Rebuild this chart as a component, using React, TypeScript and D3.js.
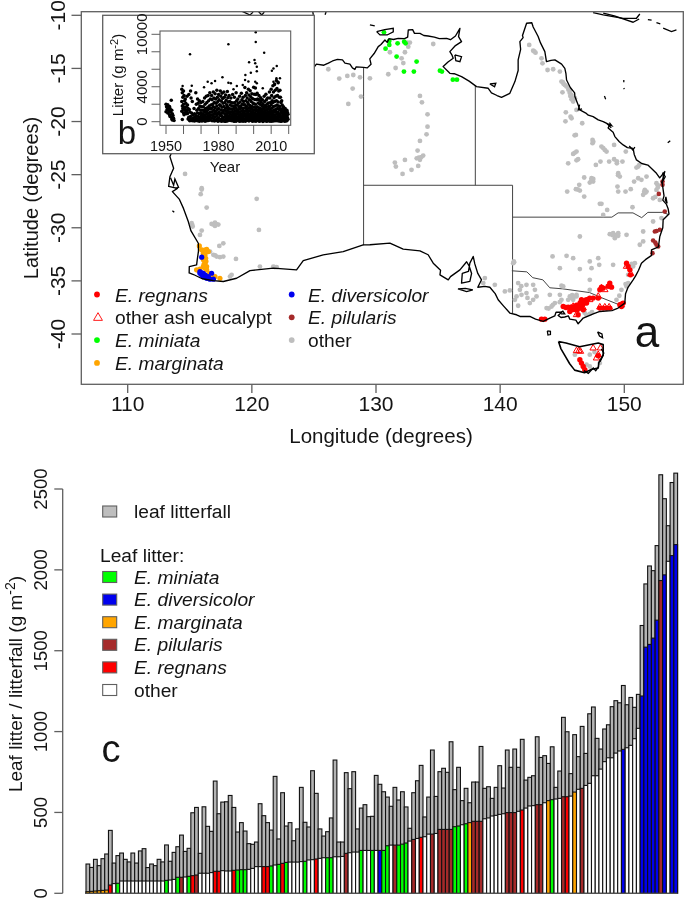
import React from "react";
import * as d3 from "d3";

type LL = [number, number];

// ---------- Panel a: map data (lon, lat) ----------
const mainland: LL[] = [
[129,-14.9],[129.3,-14.95],[129.6,-14.6],[129.5,-14.1],[129.85,-13.6],[130.18,-12.95],[130.4,-12.75],[130.72,-12.32],[130.9,-12.55],[131.05,-12.2],[131.4,-12.28],[131.79,-12.17],[132.3,-12.2],[132.55,-12.05],[132.6,-11.38],[132.95,-11.35],[133.1,-11.7],[133.54,-11.7],[133.85,-11.9],[134.2,-11.95],[134.7,-12.05],[135.1,-12.2],[135.68,-12.17],[136,-12.3],[136.4,-11.95],[136.76,-11.23],[136.65,-12],[136.89,-12.48],[136.4,-12.85],[135.95,-13.42],[136.1,-13.7],[136.22,-14.05],[135.8,-14.4],[135.41,-14.83],[135.95,-15.46],[136.3,-15.5],[136.89,-15.77],[137.5,-16.2],[138.1,-16.71],[139.04,-16.87],[139.3,-17.3],[139.75,-17.55],[140.11,-17.72],[140.78,-17.34],[141.19,-16.24],[141.45,-15.2],[141.45,-14.2],[141.65,-13.2],[141.59,-12.48],[141.85,-12.1],[141.8,-11.9],[142.13,-10.75],[142.55,-10.7],[142.66,-11.1],[143.06,-12],[143.25,-12.6],[143.6,-13.42],[143.73,-14.36],[144.1,-14.25],[144.41,-14.2],[144.95,-14.6],[145.21,-14.99],[145.3,-15.5],[145.35,-16.09],[145.65,-16.8],[146,-17.3],[146.02,-17.65],[146.3,-18.5],[146.42,-18.91],[146.9,-19.2],[147.1,-19.4],[147.49,-19.54],[147.9,-19.85],[148.3,-20],[148.83,-20.32],[148.7,-20.6],[149.1,-21],[149.24,-21.42],[149.6,-21.9],[149.91,-22.2],[150.25,-22.45],[150.71,-22.52],[150.8,-23.1],[150.98,-23.61],[151.4,-23.95],[151.9,-24.1],[152.59,-24.87],[152.85,-25.3],[153.26,-24.71],[153.05,-25.7],[153.13,-26.44],[153.2,-27],[153.1,-27.4],[153.4,-27.8],[153.53,-28.2],[153.6,-28.7],[153.13,-29.25],[153.1,-30],[152.86,-30.82],[152.75,-31.8],[152.19,-32.07],[152.2,-32.6],[151.7,-33],[151.38,-33.33],[151.15,-34],[150.9,-34.55],[150.71,-34.9],[150.3,-35.6],[150.1,-36.2],[150.04,-37.09],[149.5,-37.56],[149,-37.8],[148.03,-37.88],[147.5,-38.1],[146.69,-38.5],[146.5,-38.75],[146.28,-39.04],[146.1,-38.7],[145.61,-38.6],[145.5,-38.3],[145.2,-38.4],[144.9,-38.45],[144.67,-38.25],[144.95,-37.95],[144.5,-37.95],[144.4,-38.3],[144,-38.5],[143.47,-38.82],[142.85,-38.6],[142.39,-38.35],[141.6,-38.35],[141.32,-38.19],[140.78,-38.03],[140.3,-37.4],[139.84,-36.78],[139.6,-36.2],[139.17,-35.6],[138.77,-35.52],[138.2,-35.6],[138.5,-34.9],[138.2,-34.3],[137.96,-33.4],[137.83,-32.7],[137.56,-33.33],[137.45,-34.1],[136.95,-34.3],[136.89,-35.21],[137.56,-35.05],[137.7,-34.3],[137.5,-33.6],[137.3,-33.2],[136.76,-33.96],[136,-34.6],[135.82,-34.9],[135.15,-34.43],[135.2,-34],[134.61,-33.33],[134.2,-32.54],[133.54,-32.17],[132.19,-32.01],[131.12,-31.45],[129.51,-31.6],[128.97,-31.61],[127.36,-32.24],[125.75,-32.55],[124.14,-33.09],[123.6,-33.96],[121.73,-33.8],[119.85,-34.03],[118.77,-34.75],[117.7,-35.06],[116.9,-34.97],[116,-34.8],[115.3,-34.4],[114.95,-34.25],[114.96,-33.65],[115.55,-33.5],[115.6,-33.02],[115.7,-32.2],[115.69,-31.46],[115.1,-30.3],[114.88,-29.42],[114.5,-28.2],[114.15,-27.3],[113.6,-26.6],[114.0,-26.3],[113.3,-26.1],[113.4,-25.2],[113.7,-24.4],[113.4,-23.3],[113.8,-22.2],[114.1,-21.9],[114.5,-21.8],[116,-20.9],[117,-20.6],[118.5,-20.3],[119.5,-20],[121,-19.6],[122.3,-18],[122.2,-17],[123,-16.4],[123.7,-17.3],[123.8,-16.2],[124.6,-15.5],[125.2,-14.6],[125.8,-14.7],[126.16,-14.5],[126.5,-14.3],[126.9,-14.15],[127.3,-14.2],[127.5,-14.5],[127.9,-14.6],[128.1,-14.95],[128.3,-15.1],[128.4,-14.85],[129,-14.9]];
const tasmania: LL[] = [[144.7,-40.7],[144.9,-41.4],[145.3,-42.2],[145.6,-42.8],[146,-43.4],[146.8,-43.65],[147.3,-43.35],[147.9,-43.2],[147.95,-42.7],[148.3,-42],[148.3,-41],[147.9,-40.85],[147.5,-40.95],[146.4,-41.2],[145.3,-40.85],[144.7,-40.7]];
const islands: LL[][] = [
[[130.05,-11.54],[130.7,-11.35],[131.39,-11.23],[131.39,-11.55],[130.9,-11.85],[130.32,-11.85],[130.05,-11.54]],
[[136.35,-13.73],[136.89,-13.89],[136.76,-14.36],[136.43,-14.27],[136.35,-13.73]],
[[139.17,-16.46],[139.65,-16.4],[139.55,-16.72],[139.17,-16.46]],
[[136.6,-35.75],[137.2,-35.7],[137.8,-35.85],[137.3,-36],[136.6,-35.75]],
[[143.8,-39.7],[144.05,-39.75],[144.05,-40.05],[143.85,-40.1],[143.8,-39.7]],
[[147.85,-39.8],[148.2,-40],[148.25,-40.35],[148,-40.2],[147.85,-39.8]],
[[147.49,-9.75],[148.3,-9.97],[149.9,-10.28],[150.98,-10.28],[151.25,-9.88]],
[[148.3,-9.8],[149.2,-10.05],[150.7,-10.65],[151.2,-10.35]],
[[153.13,-11.2],[153.8,-11.54],[154.2,-11.38]],[[152.59,-10.69],[152.9,-10.8]],[[151.9,-10.4],[152.2,-10.45]],
[[119.18,-9.6],[119.85,-9.97],[120.1,-9.7]],[[120.5,-9.6],[120.8,-9.97],[121,-9.7]],[[124.9,-9.6],[124.95,-9.95]],[[126,-9.6],[125.9,-9.95]],
[[129.51,-10.9],[129.9,-11.0]],
[[149.96,-16.1],[149.96,-16.3]],[[149.96,-16.85],[150,-16.95]],[[148.4,-17.6],[148.5,-17.9]],[[153.5,-22],[153.7,-21.8]],[[113.6,-28.4],[113.75,-28.55]],
[[153.1,-24.8],[153.3,-25.2],[153.0,-25.8],[153.15,-25.3],[153.1,-24.8]],
[[153.35,-27.1],[153.45,-27.7],[153.3,-27.4],[153.35,-27.1]],
[[148.8,-20.1],[149.0,-20.4],[148.7,-20.3],[148.95,-20.6]],
[[150.4,-22.3],[150.7,-22.7],[150.85,-22.4]],
[[146.4,-18.4],[146.3,-18.9],[146.6,-18.8]],
[[146.75,-43.45],[147.1,-43.7],[147.5,-43.2],[147.7,-43.45],[147.95,-43.05]],
[[148.15,-41.4],[148.35,-41.8],[148.2,-42.2],[148.05,-42.6]],
[[144.9,-38.1],[145.2,-38.1],[145.05,-37.85],[144.85,-38]],
[[113.45,-25.3],[113.7,-26],[113.8,-25.4],[114.1,-26.2],[113.85,-26.3]],
];
const stateBorders: LL[][] = [
[[129,-14.9],[129,-31.65]],
[[129,-26],[141,-26]],
[[138,-16.6],[138,-26]],
[[141,-26],[141,-38.05]],
[[141,-29],[149,-29],[149.5,-28.6],[150.7,-28.6],[151.4,-29.05],[151.9,-28.55],[153.1,-28.55],[153.55,-28.75]],
[[140.94,-34.05],[142.15,-34.15],[142.63,-34.7],[143.44,-34.9],[144,-35.65],[145.05,-35.75],[147.2,-36.1],[148.2,-36.6],[149.6,-37.25],[150.0,-37.5]],
];

const otherSites: LL[] = [
[132.73,-12.57],[132.5,-12.57],[132.6,-12.95],[134.61,-12.7],[131.12,-13.48],[132.06,-14.05],[132.33,-13.48],[132.2,-14.5],[131.58,-14.96],[130.99,-15.55],[129.51,-15.93],[133.54,-17.59],[133.7,-18.19],[134.15,-19.32],[134.15,-20.48],[134.07,-21.2],[133.54,-21.83],[133.35,-22.73],[133.28,-23.46],[133.54,-23.6],[133.8,-23.2],[133.65,-23.35],[133.45,-23.4],[132.33,-23.61],[131.52,-23.86],[131.6,-24.24],[132.86,-24.55],[133.4,-24.18],[132.14,-24.93],
[126.16,-15.08],[127.04,-15.96],[127.69,-15.71],[128.17,-15.62],[128.71,-15.84],[128.12,-16.9],[128.79,-17.65],[127.77,-18.34],[114.62,-24.93],[115.96,-26.28],[115.96,-26.4],[115.88,-26.84],[120.39,-27.28],[116.36,-28.1],
[116.76,-29.64],[117.03,-29.51],[117.3,-29.7],[117.03,-29.83],[116.9,-29.7],[117.15,-29.65],[115.15,-29.57],[115.2,-29.75],[115.23,-29.89],[115.96,-30.26],[115.82,-30.67],[120.57,-30.2],[117.7,-31.46],[117.38,-31.71],[116.63,-32.24],[116.9,-32.55],[117.17,-32.71],[117.43,-32.77],[117.7,-32.71],[117.05,-32.6],[118.72,-32.93],[121.73,-33.65],[121.85,-33.7],[120.65,-33.65],[122,-33.71],[118.24,-34.59],[118.37,-34.43],
[142.34,-12.79],[142.66,-13.33],[142.85,-13.52],[142.75,-13.4],[143.33,-14.05],[143.41,-14.52],[143.82,-15.15],[144.27,-15.08],[144.81,-15.3],[144.94,-16.24],[145.05,-16.3],[145.21,-16.56],[145.1,-16.45],[145.35,-16.7],[145.61,-17.03],[145.5,-17],[145.75,-17.5],[145.6,-17.3],[145.65,-17.6],[146.02,-17.81],[145.88,-18.12],[145.75,-17.9],[145.02,-17.25],[146.15,-18.91],[145.29,-19.13],[145.67,-19.54],[145.26,-19.98],[145.75,-19.69],[146.61,-20.16],[146.1,-21.26],[146,-21.3],[147.44,-21.73],[147.44,-22.04],[147.5,-21.9],[148.16,-22.36],[148.3,-22.5],[148.43,-22.67],[148.57,-22.83],[146.15,-22.83],[145.88,-23.05],[146,-22.95],[146.28,-23.55],[146.15,-23.65],[145.48,-23.93],[147.71,-24.08],[148.08,-23.77],[148.78,-23.77],[149.18,-23.55],[149.4,-23.93],[149.4,-23.75],[149.85,-23.77],[150.12,-22.83],[149.18,-22.2],[151.12,-24.24],[150.98,-24.33],[151.2,-24.1],[149.51,-24.87],[149.64,-25.18],[149.5,-25.05],[151.79,-25.18],[151.12,-25.34],[150.79,-25.65],[151.38,-25.49],[147.36,-25.34],[147.49,-25.65],[147.22,-25.75],[147.35,-25.55],[147.5,-25.4],[146.77,-25.27],[146.37,-25.96],[146.1,-26.37],[146.42,-26.5],[146.25,-26.4],[145.4,-26.59],[146.77,-27.06],[149.45,-26.12],[150.1,-26.59],[149.51,-26.59],[150.52,-26.37],[151.65,-26.44],[151.52,-26.9],[151.79,-26.59],[151.7,-26.7],[151.6,-26.6],[152.59,-25.81],[152.7,-26],[152.59,-26.44],[152.7,-26.2],[152.32,-27.22],[152.5,-27.1],[152.86,-27.38],[148.16,-27.75],[148.03,-27.75],[148.62,-28.32],[148.3,-28.79],[150.66,-28.07],
[152.32,-29.41],[152.99,-29.09],[149.1,-30.51],[148.83,-30.6],[149.51,-30.51],[149.24,-30.98],[149.51,-30.76],[149.3,-30.7],[149.05,-30.7],[150.18,-30.66],[151.52,-30.35],[151.52,-31.29],[151.25,-31.6],[146.42,-30.82],[145.35,-32.64],[145.88,-32.86],[144.22,-32.7],[147.22,-33.17],[147.9,-32.86],[147.98,-33.49],[147.36,-33.8],[146.42,-33.89],[144.81,-33.8],[149.1,-33.49],[150.85,-33.33],[150.71,-33.64],[150.6,-33.4],[150.45,-33.96],[150.31,-34.43],[147.22,-34.9],[144.94,-35.46],[146.15,-36.31],[141.1,-33.17],[141.05,-33.33],[141.12,-33.25],
[138.77,-34.74],[138.64,-35.21],[139.57,-35.37],[140.38,-35.99],[140.78,-35.9],[141.45,-35.21],[141.59,-35.84],[141.7,-35.5],[142.12,-35.37],[142.66,-35.37],[141.32,-36.46],[141.72,-36.31],[142.12,-36.15],[142.66,-36.78],[142.39,-37.09],[141.45,-37.34],[142.8,-35.84],[142.93,-36.46],[141.19,-36.78],[142.2,-36.6],[143.74,-37.56],[144.14,-37.41],[143.9,-37.6],[144.41,-37.09],[144.25,-37.25],[144.81,-36.31],[144,-36.31],[145.61,-36.46],[145.88,-36.78],[145.48,-36.78],[146.15,-36.46],[145.8,-36.35],[145.95,-36.5],[145.7,-36.6],[144.94,-36.78],[144.8,-37],[145.08,-35.52],[150.18,-35.52],[150.31,-35.21],[150.1,-35.3],[149.77,-35.84],[149.37,-36.78],[149.6,-36.4],[147.22,-35.84],[148.57,-37.6],[147.22,-38.1],[146.95,-38.2],[147.4,-37.95],[146.8,-38],
[146.02,-41.95],[147.22,-41.95],[147.22,-43.05],[148.03,-42.74],[146.96,-42.89],[147.6,-41.7],
];
const miniataSites: LL[] = [[130.64,-11.6],[131.07,-12.42],[131.07,-12.79],[131.74,-12.64],[132.27,-12.48],[132.38,-12.64],[130.77,-13.14],[131.66,-13.89],[133.27,-14.36],[132.25,-15.3],[133.05,-15.3],[135.15,-15.21],[135.31,-15.3],[136.19,-16.06],[136.52,-16.06]];
const marginataSites: LL[] = [[115.77,-31.71],[115.96,-32.08],[116.36,-32.02],[116.09,-32.4],[116.28,-32.87],[116.23,-33.34],[116.09,-33.65],[116.36,-33.65],[116.36,-33.96],[115.55,-33.96],[115.82,-33.9],[117.03,-34.59],[117.43,-34.75],[116.49,-34.59],[116.23,-32.55],[116.49,-32.24],[116.2,-32.1],[116.1,-33],[116.3,-33.15],[116.15,-33.45],[116.25,-33.8],[115.7,-34],[116.6,-34.3],[116.8,-34.6]];
const diversicolorSites: LL[] = [[115.96,-32.77],[116.76,-34.28],[115.82,-34.12],[115.96,-34.44],[116.09,-34.28],[116.23,-34.59],[116.36,-34.75],[116.49,-34.59],[116.63,-34.84],[116.9,-34.84],[116.09,-34.59],[115.82,-34.28],[116.25,-34.45],[115.95,-34.25],[116.45,-34.75]];
const pilularisSites: LL[] = [[152.46,-30.35],[152.86,-30.19],[152.6,-30.3],[152.32,-31.2],[152.59,-31.6],[152.5,-31.4],[152.73,-31.76],[152.27,-32.39],[153.26,-28.47],[153.08,-25.65],[152.78,-26.81],[153.08,-25.96]];
const regnansSites: LL[] = [[150.18,-33.33],[150.31,-33.64],[150.45,-33.96],[150.5,-34.43],[148.3,-35.68],[148.83,-35.21],[148.97,-35.59],[148.16,-35.59],[148.03,-35.84],[148.7,-35.5],[145.08,-37.41],[145.48,-37.47],[145.75,-37.72],[146.15,-37.56],[146.28,-38.19],[146.55,-36.78],[146.82,-36.93],[147.22,-36.62],[147.49,-36.62],[147.9,-36.62],[146.96,-37.09],[146.55,-37.41],[146.69,-37.72],[146.02,-37.41],[145.61,-37.88],[145.85,-37.55],[146.3,-37.3],[146.45,-37.05],[147.05,-36.75],[146.2,-37.75],[145.3,-37.5],[145.95,-37.7],[146.4,-37.55],[146.7,-37.15],[146.9,-36.8],[146.15,-37.3],[145.75,-37.45],[148.03,-37.56],[148.3,-37.56],[148.57,-37.56],[148.83,-37.56],[149.64,-37.25],[149.91,-37.09],[149.77,-37.41],[143.33,-38.6],[143.6,-38.6],[146.42,-42.42],[146.55,-42.74],[146.69,-43.05],[146.82,-43.36],[147.9,-42.05]];
const ashSites: LL[] = [[150.18,-33.64],[150.52,-34.33],[148.16,-35.68],[148.83,-35.37],[148.43,-35.84],[147.9,-36.46],[147.22,-36.78],[146.69,-37.56],[146.15,-38.19],[145.88,-37.41],[148.03,-37.47],[148.43,-37.47],[148.78,-37.47],[149.77,-37.25],[146.34,-41.58],[146.15,-41.58],[146.47,-41.64],[147.49,-41.33],[148.08,-41.33],[147.9,-41.95],[147.76,-42.27]];

const lonTicks = [110, 120, 130, 140, 150];
const latTicks = [-10, -15, -20, -25, -30, -35, -40];
const mapLegendLeft = ["E. regnans", "other ash eucalypt", "E. miniata", "E. marginata"];
const mapLegendRight = ["E. diversicolor", "E. pilularis", "other"];

// ---------- Panel b: litter per site-year ----------
const litterOutliers: LL[] = [[1963.7,7710],[1985.6,8850],[2001.2,10230],[2001.2,9120],[2006,7900],[1997.4,6800],[2000.5,7060],[2000.9,6680],[2001.8,6300],[1998.4,5610],[2001.8,5760],[2010.4,5840],[2011.3,6100],[2013.2,6370],[1995.3,5340],[1982.2,5080],[1964.7,4120],[1959.5,4080],[1973.8,4580],[1978,4650],[1976,4390],[1985.6,4460],[1987,4390],[1988.5,3700],[1990.4,4080],[1993.8,4200],[1995.1,4770],[1997,4600],[2000.9,4580],[2001.8,4400],[2005.2,3820],[2011.3,4580],[2013,4960],[2015,4960],[2012,4200],[2014,4400],[1971.7,3930]];
const litterYears = [1950,1951,1952,1953,1954,1959,1960,1961,1962,1963,1964,1965,1966,1967,1968,1969,1970,1971,1972,1973,1974,1975,1976,1977,1978,1979,1980,1981,1982,1983,1984,1985,1986,1987,1988,1989,1990,1991,1992,1993,1994,1995,1996,1997,1998,1999,2000,2001,2002,2003,2004,2005,2006,2007,2008,2009,2010,2011,2012,2013,2014,2015,2016,2017,2018,2019];
const litterByYear: number[][] = [
[2000,1700,1400,1150],[1950,1600,1250,1000],[1750,1500,1100,800,600],[2450,1300,900,550,300,200],[700,400,150],
[3700,3300,2800,2300,1800,1500,1200,250],[3500,3000,2400,2000,1650,1350,1000,800],[2600,2100,1700,1400,1100,900],[2900,1900,1500,1250,950,300],[3100,1400,1100,500,200,100],
[3500,2700,1000,600,300,150],[2300,800,450,250,100],[1500,900,500,200,80],[3300,2000,1300,700,350,150],[2600,2100,1500,1000,600,300,100],[2400,1800,1300,900,500,250,60],[2200,1700,1300,1000,750,450,200,80],[2300,1700,1300,900,600,350,100],[2700,2000,1500,1100,800,500,250,60],[2900,2200,1600,1200,900,600,300,120],
[3000,2400,1800,1400,1000,700,400,150],[3300,2600,1900,1500,1100,800,500,200],[3000,2500,2000,1500,1150,800,450,100],[3400,2700,2200,1700,1300,950,650,350,80],[3200,2600,2100,1600,1200,900,500,150],[3600,2800,2300,1800,1400,1000,700,300,60],[3100,2500,1950,1500,1100,850,450,120],[3500,2900,2350,1850,1350,950,700,250,50],[3250,2650,2100,1650,1250,1000,600,350,90],[3400,2800,2200,1750,1300,900,520,200,60],
[3050,2450,1950,1550,1200,900,650,380,150,40],[3450,2750,2250,1750,1400,1050,750,450,200,70],[3000,2300,1900,1500,1150,850,600,350,130],[2700,2200,1800,1450,1100,800,550,300,100],[3100,2150,1750,1400,1050,780,500,260,80],[2800,2200,1850,1500,1200,900,650,380,160,50],[3300,2400,1900,1550,1250,950,700,420,190,60],[2600,2100,1700,1350,1050,800,550,300,120],[2900,2250,1800,1450,1150,850,600,340,140,40],[3250,2500,2000,1600,1250,950,700,430,200,70],
[2800,2300,1900,1500,1200,900,620,380,170,50],[3900,3000,2400,1950,1550,1200,900,650,400,180,60],[3300,2700,2200,1750,1400,1100,820,560,320,140],[3700,3050,2500,2000,1600,1250,950,680,430,200,70],[3550,2850,2300,1850,1500,1150,880,620,380,170],[3200,2650,2150,1750,1400,1100,830,570,340,150,50],[3950,3150,2550,2050,1650,1300,1000,720,460,220,80],[3850,3100,2500,2000,1600,1250,960,690,430,210,60],[3250,2600,2150,1700,1350,1050,790,540,310,130],[3000,2450,2000,1600,1300,1000,750,500,290,120,40],
[2750,2250,1850,1500,1200,950,700,480,280,110],[2500,2050,1700,1400,1150,900,680,460,260,100,30],[2900,2300,1850,1500,1200,950,700,470,270,110],[3150,2500,2000,1650,1300,1000,760,520,300,130,40],[2700,2150,1750,1450,1150,900,670,450,250,90],[3400,2700,2200,1750,1400,1100,830,570,340,150,50],[3700,3000,2400,1950,1550,1200,920,640,400,180,60],[4100,3400,2750,2200,1750,1350,1050,760,500,250,90],[4300,3600,2900,2300,1800,1400,1100,800,520,260,100],[4700,3800,3000,2400,1900,1500,1150,840,560,280,110],
[4500,3500,2800,2250,1800,1400,1080,790,510,250,90],[3600,2800,2200,1750,1400,1100,830,570,340,150,50],[2400,1900,1550,1250,1000,780,560,360,180,60],[1700,1400,1150,900,700,520,340,170,50],[1500,1200,950,750,560,380,220,80],[1300,1050,850,650,450,280,120],
];

const inXTicks = [1950, 1960, 1970, 1980, 1990, 2000, 2010, 2020];
const inXLabels = [1950, 1980, 2010];
const inYTicks = [0, 2000, 4000, 6000, 8000, 10000];
const inYLabels = [0, 4000, 10000];

// ---------- Panel c: bars, in rank order ----------
const litterfallValues = [
181,160,210,171,214,243,389,187,233,249,210,194,249,187,262,276,159,181,171,210,194,299,198,253,288,360,259,278,498,531,247,535,414,383,694,492,564,
566,605,531,379,437,385,307,303,317,554,480,437,391,723,336,622,416,437,325,398,655,439,410,758,618,398,354,381,466,824,317,317,746,647,752,398,527,548,474,476,729,674,628,595,538,655,577,628,534,402,622,696,791,472,595,886,599,752,773,748,937,641,
779,573,649,560,688,688,908,649,659,587,655,789,651,886,779,892,779,952,700,717,727,968,840,851,803,906,655,756,1088,999,740,981,845,1032,865,1110,1152,958,892,1016,1042,1154,1191,1178,1285,1166,1211,1150,1230,
1656,1913,2024,1995,2150,2588,2440,2273,2540,2598];
const leafLitterValues = [
10,12,14,16,18,20,51,60,62,76,76,76,76,76,76,76,76,76,76,76,76,80,82,86,99,99,101,105,109,113,124,124,124,128,136,136,140,
138,138,142,144,146,146,148,154,165,165,165,165,169,175,179,185,191,193,193,193,196,198,206,208,212,216,220,220,220,226,226,228,247,251,255,255,265,265,265,265,265,265,265,294,298,298,298,304,311,323,333,339,346,350,366,366,370,395,395,395,395,412,
416,424,430,437,445,445,445,461,466,478,482,488,492,499,499,499,507,515,527,540,542,548,548,560,573,579,583,587,597,597,601,626,643,649,667,680,727,727,768,814,838,838,867,880,890,900,915,956,1020,
1220,1522,1539,1578,1689,1934,1969,2053,2088,2156];
// M marginata, R regnans, G miniata, B diversicolor, P pilularis, X other
const barSpecies = (
"MMMMMMRXGXXXXXXXXXXXXGXXGPXGRPXXXXRRX" +
"XXRGGGXXXXRRGXGRGXXXXGXXRXXGGXXXPXXXGXXGXBGGXPGGGXPXRXXPXPPPPG" +
"GXGMPPPXXXXXXPPPXRXXXPPXMGXXPRXMXPXXXXXXXXXXBXXXX" +
"BBBBBPBXBB").split("");
const speciesColour: Record<string, string> = { M: "orange", R: "red", G: "#00ff00", B: "#0000ee", P: "brown", X: "white" };
const barTicks = [0, 500, 1000, 1500, 2000, 2500];
const barLegend: [string, string][] = [["E. miniata", "#00ff00"], ["E. diversicolor", "#0000ee"], ["E. marginata", "orange"], ["E. pilularis", "brown"], ["E. regnans", "red"], ["other", "white"]];

const FONT = "'Liberation Sans', Arial, sans-serif";
const INK = "#141414";
const AX = "#5f5f5f";

const lonX = d3.scaleLinear().domain([110, 150]).range([127.7, 624.3]);
const latY = d3.scaleLinear().domain([-10, -40]).range([15.3, 334]);
const yearX = d3.scaleLinear().domain([1950, 2020]).range([166, 288.7]);
const litY = d3.scaleLinear().domain([0, 10000]).range([121.7, 34.3]);
const barX = d3.scaleBand<number>().domain(d3.range(litterfallValues.length)).range([86, 677.6]);
const barY = d3.scaleLinear().domain([0, 2500]).range([893.3, 489]);
const coastLine = d3.line<LL>().x((d) => lonX(d[0])).y((d) => latY(d[1]));

function Dots({ pts, fill, r }: { pts: LL[]; fill: string; r: number }) {
  return <g fill={fill}>{pts.map((p, i) => <circle key={i} cx={lonX(p[0])} cy={latY(p[1])} r={r} />)}</g>;
}

export default function App() {
  const tri = d3.symbol().type(d3.symbolTriangle).size(18)() as string;
  const legendTri = d3.symbol().type(d3.symbolTriangle).size(34)() as string;
  return (
    <svg width={685} height={899} viewBox="0 0 685 899" style={{ position: "absolute", left: 0, top: 0, filter: "blur(0.35px)" }} fontFamily={FONT} fill={INK}>
      <rect width={685} height={899} fill="white" />
      <defs>
        <clipPath id="mapClip"><rect x={81.3} y={11.7} width={602} height={372.6} /></clipPath>
      </defs>

      {/* Panel a */}
      <g clipPath="url(#mapClip)">
        {stateBorders.map((b, i) => <path key={i} d={coastLine(b) as string} fill="none" stroke="#444" strokeWidth={1} />)}
        <Dots pts={otherSites} fill="#bebebe" r={2.4} />
        <Dots pts={pilularisSites} fill="brown" r={2.3} />
        <Dots pts={miniataSites} fill="#00ff00" r={2.4} />
        <Dots pts={marginataSites} fill="orange" r={2.6} />
        <Dots pts={diversicolorSites} fill="#0000ee" r={2.6} />
        <Dots pts={regnansSites} fill="red" r={2.7} />
        <g fill="none" stroke="red" strokeWidth={1}>
          {ashSites.map((p, i) => <path key={i} d={tri} transform={`translate(${lonX(p[0])},${latY(p[1])})`} />)}
        </g>
        <path d={coastLine(mainland) as string} fill="none" stroke="#000" strokeWidth={1.35} strokeLinejoin="round" />
        <path d={coastLine(tasmania) as string} fill="none" stroke="#000" strokeWidth={1.6} strokeLinejoin="round" />
        {islands.map((b, i) => <path key={i} d={coastLine(b) as string} fill="none" stroke="#000" strokeWidth={1.3} />)}
      </g>
      <rect x={81.3} y={11.7} width={602} height={372.6} fill="none" stroke={AX} strokeWidth={1.3} />
      {lonTicks.map((t) => (
        <g key={t}>
          <line x1={lonX(t)} x2={lonX(t)} y1={384.3} y2={393} stroke={AX} strokeWidth={1.3} />
          <text x={lonX(t)} y={411} fontSize={21} textAnchor="middle">{t}</text>
        </g>
      ))}
      {latTicks.map((t) => (
        <g key={t}>
          <line x1={71.5} x2={81.3} y1={latY(t)} y2={latY(t)} stroke={AX} strokeWidth={1.3} />
          <text transform={`translate(65,${latY(t)}) rotate(-90)`} fontSize={21} textAnchor="middle">{t}</text>
        </g>
      ))}
      <text x={381} y={443} fontSize={20.5} textAnchor="middle">Longitude (degrees)</text>
      <text transform="translate(38,198) rotate(-90)" fontSize={20} textAnchor="middle">Latitude (degrees)</text>
      <text x={647} y={347} fontSize={44} textAnchor="middle">a</text>

      {mapLegendLeft.map((t, i) => {
        const y = 295 + i * 22.8;
        return (
          <g key={t}>
            {i === 1
              ? <path d={legendTri} transform={`translate(98,${y})`} fill="none" stroke="red" strokeWidth={0.9} />
              : <circle cx={97} cy={y - 0.5} r={2.9} fill={["red", "", "#00ff00", "orange"][i]} />}
            <text x={115} y={y + 6.5} fontSize={19.2} fontStyle={i === 1 ? "normal" : "italic"}>{t}</text>
          </g>
        );
      })}
      {mapLegendRight.map((t, i) => {
        const y = 295 + i * 22.8;
        return (
          <g key={t}>
            <circle cx={291.7} cy={y - 0.5} r={2.9} fill={["#0000ee", "brown", "#bebebe"][i]} />
            <text x={308} y={y + 6.5} fontSize={19.2} fontStyle={i === 2 ? "normal" : "italic"}>{t}</text>
          </g>
        );
      })}

      {/* Panel b inset */}
      <rect x={102.7} y={15.3} width={211.6} height={138.4} fill="white" stroke={AX} strokeWidth={1.3} />
      <g fill="#000">
        {litterYears.map((yr, i) => litterByYear[i].map((v, j) => (
          <circle key={`${yr}-${j}`} cx={yearX(yr + (j % 3) * 0.3)} cy={litY(v)} r={1.75} />
        )))}
        {litterOutliers.map((p, i) => <circle key={i} cx={yearX(p[0])} cy={litY(p[1])} r={1.25} />)}
      </g>
      <rect x={160} y={31} width={130.7} height={94.3} fill="none" stroke={AX} strokeWidth={1.1} />
      {inXTicks.map((t) => <line key={t} x1={yearX(t)} x2={yearX(t)} y1={125.3} y2={134} stroke={AX} strokeWidth={1} />)}
      {inXLabels.map((t) => <text key={t} x={yearX(t)} y={151} fontSize={14.4} textAnchor="middle">{t}</text>)}
      {inYTicks.map((t) => <line key={t} x1={151.5} x2={160} y1={litY(t)} y2={litY(t)} stroke={AX} strokeWidth={1} />)}
      {inYLabels.map((t) => <text key={t} transform={`translate(147,${litY(t)}) rotate(-90)`} fontSize={15} textAnchor="middle">{t}</text>)}
      <text x={225} y={172} fontSize={15} textAnchor="middle">Year</text>
      <text transform="translate(123,75) rotate(-90)" fontSize={15} textAnchor="middle">
        Litter (g m<tspan dy={-5} fontSize={11}>-2</tspan><tspan dy={5}>)</tspan>
      </text>
      <text x={127} y={144} fontSize={33} textAnchor="middle">b</text>

      {/* Panel c */}
      {litterfallValues.map((v, i) => (
        <rect key={i} x={barX(i)} y={barY(v)} width={barX.bandwidth()} height={barY(0) - barY(v)} fill="#b4b4b4" stroke="#111" strokeWidth={1.1} />
      ))}
      {leafLitterValues.map((v, i) => (
        <rect key={i} x={barX(i)} y={barY(v)} width={barX.bandwidth()} height={barY(0) - barY(v)} fill={speciesColour[barSpecies[i]]} stroke="#111" strokeWidth={1.1} />
      ))}
      <line x1={86} x2={677.6} y1={893.3} y2={893.3} stroke={AX} strokeWidth={1} />
      <line x1={62.7} x2={62.7} y1={barY(0)} y2={barY(2500)} stroke={AX} strokeWidth={1.3} />
      {barTicks.map((t) => (
        <g key={t}>
          <line x1={54.3} x2={62.7} y1={barY(t)} y2={barY(t)} stroke={AX} strokeWidth={1.3} />
          <text transform={`translate(47,${barY(t)}) rotate(-90)`} fontSize={18.6} textAnchor="middle">{t}</text>
        </g>
      ))}
      <text transform="translate(21.5,684) rotate(-90)" fontSize={19} textAnchor="middle">
        Leaf litter / litterfall (g m<tspan dy={-7} fontSize={14}>-2</tspan><tspan dy={7}>)</tspan>
      </text>
      <text x={111} y={762} fontSize={38} textAnchor="middle">c</text>

      <rect x={102.7} y={506} width={14} height={11} fill="#bebebe" stroke={AX} strokeWidth={1.1} />
      <text x={134} y={518} fontSize={19.2}>leaf litterfall</text>
      <text x={100} y={561.5} fontSize={19.2}>Leaf litter:</text>
      {barLegend.map(([t, c], i) => {
        const y = 577 + i * 22.6;
        return (
          <g key={t}>
            <rect x={102.7} y={y - 5.5} width={14} height={11} fill={c} stroke={AX} strokeWidth={1.1} />
            <text x={134} y={y + 6.5} fontSize={19.2} fontStyle={i === 5 ? "normal" : "italic"}>{t}</text>
          </g>
        );
      })}
    </svg>
  );
}
